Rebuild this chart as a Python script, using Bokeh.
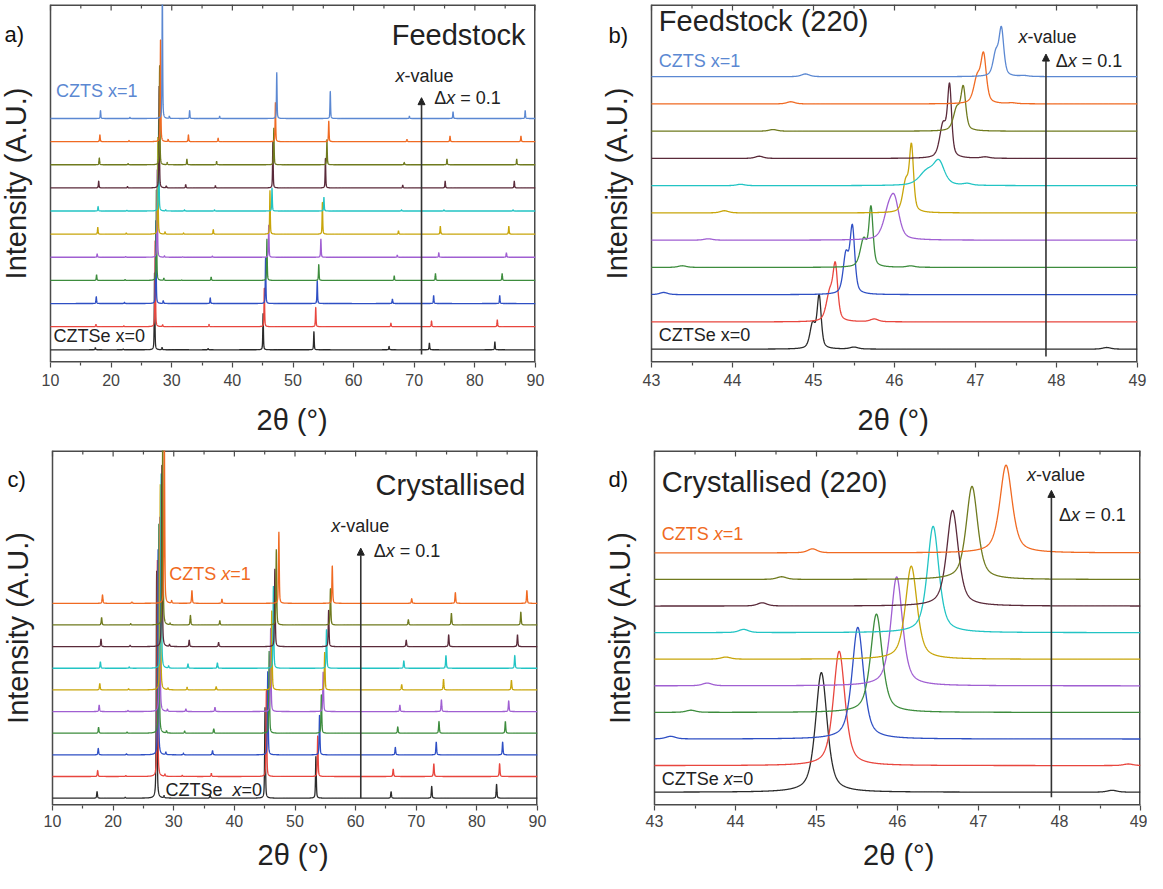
import numpy as np
from bokeh.plotting import figure
from bokeh.models import (Range1d, FixedTicker, Label, Arrow, NormalHead)
from bokeh.layouts import column, row
from bokeh.embed import file_html
from bokeh.resources import INLINE

# ------------------------------------------------------------------ data
COMPOSITIONS = [0.0, 0.1, 0.2, 0.3, 0.4, 0.5, 0.6, 0.7, 0.8, 0.9, 1.0]
TRACE_COLORS = ["#2b2b2b", "#e8463e", "#2e4fc4", "#3d8c3d", "#a05fd2", "#c8a50a",
                "#22c4c4", "#5a2a3a", "#6f7a1e", "#f06a22", "#5b88d2"]

# Panel a: feedstock, 10-90 deg, 11 traces (peak positions and heights, in trace-offset units)
FEED_101_POS = [17.40, 17.50, 17.55, 17.60, 17.70, 17.80, 17.85, 17.95, 18.05, 18.15, 18.25]
FEED_101_H = [0.10, 0.10, 0.30, 0.25, 0.15, 0.30, 0.20, 0.30, 0.30, 0.30, 0.35]
FEED_110_POS = [22.00, 22.10, 22.20, 22.30, 22.40, 22.50, 22.60, 22.70, 22.80, 22.95, 23.10]
FEED_110_H = [0.03, 0.03, 0.05, 0.04, 0.03, 0.05, 0.03, 0.06, 0.05, 0.05, 0.05]
FEED_112_POS = [27.17, 27.27, 27.38, 27.47, 27.60, 27.70, 27.85, 27.92, 28.00, 28.15, 28.45]
FEED_112_H = [3.4, 3.8, 3.6, 4.0, 3.8, 4.2, 4.0, 4.4, 4.3, 4.5, 5.8]
FEED_103_POS = [28.40, 28.50, 28.60, 28.70, 28.80, 28.90, 29.00, 29.10, 29.25, 29.40, 29.60]
FEED_103_H = [0.10, 0.08, 0.12, 0.10, 0.06, 0.10, 0.05, 0.08, 0.10, 0.10, 0.10]
FEED_200_POS = [31.20, 31.35, 31.50, 31.65, 31.80, 31.95, 32.10, 32.30, 32.50, 32.75, 32.95]
FEED_200_H = [0.00, 0.00, 0.00, 0.02, 0.02, 0.05, 0.05, 0.15, 0.25, 0.30, 0.35]
FEED_211_POS = [36.00, 36.15, 36.35, 36.50, 36.70, 36.85, 37.05, 37.20, 37.40, 37.65, 37.90]
FEED_211_H = [0.05, 0.10, 0.25, 0.15, 0.05, 0.20, 0.05, 0.10, 0.15, 0.15, 0.10]
FEED_220_POS = [45.07, 45.27, 45.48, 45.70, 46.00, 46.20, 46.54, 46.68, 46.84, 47.10, 47.32]
FEED_220_H = [1.6, 1.7, 2.0, 1.8, 1.4, 1.9, 1.0, 2.0, 1.6, 1.7, 2.0]
FEED_312_POS = [53.45, 53.75, 54.00, 54.25, 54.60, 54.85, 55.10, 55.35, 55.60, 55.90, 56.15]
FEED_312_H = [0.80, 0.85, 1.00, 0.70, 0.80, 1.40, 0.60, 1.30, 1.10, 0.90, 1.20]
FEED_400_POS = [65.85, 66.15, 66.40, 66.70, 67.20, 67.40, 67.90, 68.10, 68.35, 68.80, 69.20]
FEED_400_H = [0.15, 0.15, 0.20, 0.20, 0.10, 0.15, 0.05, 0.12, 0.10, 0.10, 0.10]
FEED_332_POS = [72.50, 72.85, 73.20, 73.50, 74.05, 74.30, 74.90, 75.10, 75.40, 75.90, 76.40]
FEED_332_H = [0.30, 0.25, 0.35, 0.30, 0.20, 0.35, 0.05, 0.30, 0.25, 0.25, 0.30]
FEED_424_POS = [83.30, 83.70, 84.10, 84.50, 85.20, 85.60, 86.30, 86.50, 86.90, 87.60, 88.30]
FEED_424_H = [0.35, 0.30, 0.35, 0.30, 0.20, 0.35, 0.05, 0.30, 0.25, 0.25, 0.35]

# Panel b: feedstock (220), 43-49 deg, 11 traces
FEED220_MAIN_POS = [45.07, 45.27, 45.48, 45.71, 46.00, 46.21, 46.55, 46.68, 46.85, 47.10, 47.32]
FEED220_MAIN_H = [1.9, 1.9, 2.4, 2.1, 1.3, 2.3, 0.8, 2.5, 1.5, 1.7, 1.7]
FEED220_MAIN_W = [0.06, 0.07, 0.07, 0.06, 0.14, 0.06, 0.16, 0.06, 0.07, 0.08, 0.07]
FEED220_SHLD_POS = [44.99, 45.20, 45.40, 45.62, 45.92, 46.14, 46.40, 46.60, 46.77, 47.02, 47.25]
FEED220_SHLD_H = [0.9, 1.0, 1.4, 1.0, 0.8, 1.1, 0.5, 1.2, 0.8, 0.9, 0.8]
FEED220_SHLD_W = [0.08, 0.10, 0.08, 0.10, 0.15, 0.09, 0.22, 0.10, 0.10, 0.10, 0.08]
FEED220_BUMP_POS = [45.50, 45.75, 43.15, 43.38, 43.70, 43.90, 44.10, 44.33, 44.50, 44.72, 44.90]
FEED220_BUMP_H = [0.07, 0.10, 0.08, 0.06, 0.05, 0.08, 0.05, 0.08, 0.06, 0.08, 0.10]
FEED220_BUMP2_POS = [48.62, 47.75, 48.50, 46.20, 46.40, 46.60, 46.90, 47.12, 47.30, 47.45, 47.60]
FEED220_BUMP2_H = [0.06, 0.00, 0.00, 0.05, 0.00, 0.00, 0.06, 0.05, 0.00, 0.03, 0.03]

# Panel c: crystallised, 10-90 deg, 10 traces
CRYS_101_POS = [17.35, 17.45, 17.55, 17.60, 17.70, 17.80, 17.90, 18.00, 18.10, 18.25]
CRYS_101_H = [0.30, 0.28, 0.30, 0.28, 0.30, 0.30, 0.30, 0.35, 0.35, 0.40]
CRYS_110_POS = [22.00, 22.10, 22.20, 22.30, 22.45, 22.55, 22.65, 22.80, 22.90, 23.10]
CRYS_110_H = [0.04, 0.04, 0.05, 0.05, 0.05, 0.05, 0.06, 0.06, 0.06, 0.06]
CRYS_112_POS = [27.18, 27.30, 27.42, 27.55, 27.68, 27.78, 27.92, 28.05, 28.18, 28.45]
CRYS_112_H = [10.5, 10.0, 9.5, 9.8, 9.0, 9.5, 9.0, 8.5, 8.8, 7.8]
CRYS_103_POS = [28.40, 28.55, 28.70, 28.80, 28.95, 29.05, 29.15, 29.30, 29.40, 29.65]
CRYS_103_H = [0.10, 0.10, 0.12, 0.10, 0.10, 0.08, 0.10, 0.10, 0.08, 0.12]
CRYS_200_POS = [31.20, 31.40, 31.60, 31.80, 32.00, 32.20, 32.35, 32.55, 32.75, 33.00]
CRYS_200_H = [0.00, 0.05, 0.08, 0.10, 0.12, 0.12, 0.20, 0.30, 0.45, 0.60]
CRYS_211_POS = [36.00, 36.20, 36.40, 36.60, 36.80, 37.00, 37.20, 37.40, 37.60, 37.95]
CRYS_211_H = [0.15, 0.15, 0.20, 0.20, 0.20, 0.15, 0.25, 0.20, 0.20, 0.20]
CRYS_220_POS = [45.06, 45.28, 45.51, 45.74, 45.99, 46.17, 46.44, 46.68, 46.92, 47.34]
CRYS_220_H = [4.2, 4.0, 3.9, 3.8, 3.9, 3.7, 3.8, 3.6, 3.5, 3.3]
CRYS_312_POS = [53.45, 53.75, 54.05, 54.35, 54.65, 54.90, 55.20, 55.55, 55.85, 56.15]
CRYS_312_H = [1.95, 1.90, 1.85, 1.80, 1.85, 1.75, 1.80, 1.70, 1.70, 1.75]
CRYS_400_POS = [65.85, 66.20, 66.55, 66.95, 67.30, 67.60, 67.95, 68.35, 68.70, 69.25]
CRYS_400_H = [0.30, 0.35, 0.35, 0.30, 0.30, 0.25, 0.35, 0.30, 0.25, 0.22]
CRYS_332_POS = [72.55, 72.90, 73.30, 73.75, 74.15, 74.50, 74.90, 75.35, 75.80, 76.45]
CRYS_332_H = [0.55, 0.60, 0.60, 0.55, 0.55, 0.50, 0.60, 0.55, 0.55, 0.50]
CRYS_424_POS = [83.25, 83.75, 84.25, 84.70, 85.25, 85.70, 86.25, 86.70, 87.25, 88.25]
CRYS_424_H = [0.65, 0.60, 0.60, 0.55, 0.50, 0.45, 0.60, 0.55, 0.60, 0.60]

# Panel d: crystallised (220), 43-49 deg, 10 traces
CRYS220_POS = [45.06, 45.28, 45.51, 45.74, 45.99, 46.17, 46.44, 46.68, 46.92, 47.34]
CRYS220_H = [4.5, 4.3, 4.2, 3.7, 4.1, 3.5, 4.0, 3.6, 3.5, 3.3]
CRYS220_W = [0.17, 0.17, 0.17, 0.17, 0.17, 0.17, 0.17, 0.17, 0.17, 0.18]
CRYS220_BUMP_POS = [48.65, 48.85, 43.20, 43.45, 43.65, 43.88, 44.10, 44.33, 44.57, 44.95]
CRYS220_BUMP_H = [0.07, 0.06, 0.10, 0.08, 0.10, 0.08, 0.12, 0.12, 0.10, 0.15]

X_FULL_TICK = 10
X_ZOOM_TICK = 1

# ------------------------------------------------------------------ style
FONT = "Liberation Sans"
AX = "#4a4a4a"
TXT = "#222222"
BIG = 29
SMALL = 18

EM = {"C": .722, "Z": .611, "T": .611, "S": .667, "e": .556, " ": .278, "x": .5,
      "=": .584, "0": .556, "1": .556, "2": .556, "-": .333, "v": .5, "a": .556, "l": .222,
      "u": .556, "\u0394": .668, ".": .278, "F": .611, "d": .556, "s": .5, "t": .278,
      "o": .556, "c": .5, "k": .5, "r": .333, "y": .5, "i": .222, "(": .333, ")": .333}


def twidth(s, size):
    return sum(EM.get(c, .556) for c in s) * size


def profile(x, pos, h, w, eta=0.5):
    d = (x - pos) / w
    return h * (eta / (1.0 + 4.0 * d * d) + (1.0 - eta) * np.exp(-4.0 * np.log(2) * d * d))


def make_fig(fig_w, fig_h, ext_l, box_w, bt, frame_h, xr, yr, interval,
             lab_standoff, title_standoff, pad):
    """Frame is widened to the left by ext_l px so that the panel letter and the
    y-axis title (drawn as annotations) are not clipped; the visible box is drawn
    at the real x range."""
    br = fig_w - ext_l - box_w
    bb = fig_h - bt - frame_h
    dx = (xr[1] - xr[0]) / box_w
    p = figure(width=fig_w, height=fig_h, x_range=Range1d(xr[0] - ext_l * dx, xr[1]),
               y_range=Range1d(*yr), y_axis_location=None,
               output_backend="svg", toolbar_location=None,
               min_border_left=0, min_border_right=br, min_border_top=bt, min_border_bottom=bb)
    p.xgrid.visible = False
    p.ygrid.visible = False
    p.outline_line_color = None
    p.border_fill_color = "white"
    half = interval / 2.0
    n = int(round((xr[1] - xr[0]) / half))
    tx = [xr[0] + k * half for k in range(n + 1)]
    major = [t for k, t in enumerate(tx) if k % 2 == 0]
    minor = [t for k, t in enumerate(tx) if k % 2 == 1]
    xa = p.xaxis[0]
    xa.ticker = FixedTicker(ticks=major, minor_ticks=minor)
    xa.axis_label = "\u00a0" * pad + "2\u03b8 (\u00b0)"
    xa.axis_label_text_font = FONT
    xa.axis_label_text_font_size = f"{BIG}px"
    xa.axis_label_text_font_style = "normal"
    xa.axis_label_text_color = TXT
    xa.axis_label_standoff = title_standoff
    xa.major_label_text_font = FONT
    xa.major_label_text_font_size = "16px"
    xa.major_label_text_color = "#444444"
    xa.major_label_standoff = lab_standoff
    xa.axis_line_color = None
    xa.major_tick_line_color = AX
    xa.minor_tick_line_color = AX
    xa.major_tick_line_width = 1.2
    xa.minor_tick_line_width = 1.2
    xa.major_tick_in = 0
    xa.major_tick_out = 5
    xa.minor_tick_in = 0
    xa.minor_tick_out = 3
    span = yr[1] - yr[0]
    # frame box (edges on the frame boundary are drawn twice as wide: half is clipped)
    p.segment(x0=[xr[0], xr[0], xr[1]], y0=[yr[0], yr[1], yr[0]],
              x1=[xr[1], xr[1], xr[1]], y1=[yr[0], yr[1], yr[1]],
              line_color=AX, line_width=3)
    p.segment(x0=[xr[0]], y0=[yr[0]], x1=[xr[0]], y1=[yr[1]], line_color=AX, line_width=1.5)
    # inward ticks along the top edge
    p.segment(x0=major, y0=[yr[1]] * len(major), x1=major,
              y1=[yr[1] - 6 * span / frame_h] * len(major), line_color=AX, line_width=1.2)
    p.segment(x0=minor, y0=[yr[1]] * len(minor), x1=minor,
              y1=[yr[1] - 4 * span / frame_h] * len(minor), line_color=AX, line_width=1.2)
    # y-axis title
    p.add_layout(Label(x=xr[0], y=(yr[0] + yr[1]) / 2.0, x_offset=-35, angle=np.pi / 2,
                       text="Intensity (A.U.)", text_font=FONT, text_font_size=f"{BIG}px",
                       text_color=TXT, text_align="center", text_baseline="middle"))
    return p


def add_text(p, x, y, parts, size, color, align="left"):
    total = sum(twidth(t, size) for t, _ in parts)
    off = -total if align == "right" else 0.0
    for t, it in parts:
        stripped = t.lstrip(" ")
        lead = twidth(t[:len(t) - len(stripped)], size)
        p.add_layout(Label(x=x, y=y, x_offset=off + lead, text=stripped,
                           text_font=FONT, text_font_size=f"{size}px",
                           text_font_style="italic" if it else "normal",
                           text_color=color, text_align="left", text_baseline="middle"))
        off += twidth(t, size)


def add_arrow(p, x, y0, y1):
    p.add_layout(Arrow(end=NormalHead(size=7, fill_color="#222222", line_color="#222222"),
                       x_start=x, y_start=y0, x_end=x, y_end=y1,
                       line_color="#333333", line_width=1.6))


def panel_letter(p, txt, xr, y, dx):
    p.add_layout(Label(x=xr[0], y=y, x_offset=dx, text=txt, text_font=FONT,
                       text_font_size="22px", text_color="#111111",
                       text_align="left", text_baseline="middle"))


# ------------------------------------------------------------------ panel a
FH1 = 358
FH2 = 355
xr_a = (10, 90)
yr_a = (-0.55, 14.93)
pa = make_fig(592, 440, 50, 485, 4, FH1, xr_a, yr_a, X_FULL_TICK, 6, 15, 6)
xs = np.arange(10, 90.0001, 0.02)
feed_peaks = [(FEED_101_POS, FEED_101_H), (FEED_110_POS, FEED_110_H), (FEED_112_POS, FEED_112_H),
              (FEED_103_POS, FEED_103_H), (FEED_200_POS, FEED_200_H), (FEED_211_POS, FEED_211_H),
              (FEED_220_POS, FEED_220_H), (FEED_312_POS, FEED_312_H), (FEED_400_POS, FEED_400_H),
              (FEED_332_POS, FEED_332_H), (FEED_424_POS, FEED_424_H)]
for i in range(len(COMPOSITIONS)):
    y = np.zeros_like(xs)
    for pos, hh in feed_peaks:
        y += profile(xs, pos[i], hh[i], 0.12)
    pa.line(xs, y + i, color=TRACE_COLORS[i], line_width=1.3)
add_text(pa, 88.35, 13.6, [("Feedstock", False)], BIG, TXT, align="right")
add_text(pa, 10.9, 11.2, [("CZTS x=1", False)], SMALL, TRACE_COLORS[10])
add_text(pa, 10.5, 0.58, [("CZTSe x=0", False)], SMALL, TXT)
add_arrow(pa, 71.2, -0.2, 10.9)
add_text(pa, 66.9, 11.85, [("x", True), ("-value", False)], SMALL, TXT)
add_text(pa, 73.3, 10.9, [("\u0394", False), ("x", True), (" = 0.1", False)], SMALL, TXT)
panel_letter(pa, "a)", xr_a, yr_a[1] - 30 * (yr_a[1] - yr_a[0]) / FH1, -46)

# ------------------------------------------------------------------ panel b
xr_b = (43, 49)
yr_b = (-0.49, 12.65)
pb = make_fig(555, 440, 59, 486, 4, FH1, xr_b, yr_b, X_ZOOM_TICK, 6, 15, 7)
xz = np.arange(43, 49.0001, 0.004)
for i in range(len(COMPOSITIONS)):
    y = (profile(xz, FEED220_MAIN_POS[i], FEED220_MAIN_H[i], FEED220_MAIN_W[i]) +
         profile(xz, FEED220_SHLD_POS[i], FEED220_SHLD_H[i], FEED220_SHLD_W[i]) +
         profile(xz, FEED220_BUMP_POS[i], FEED220_BUMP_H[i], 0.12) +
         profile(xz, FEED220_BUMP2_POS[i], FEED220_BUMP2_H[i], 0.12))
    pb.line(xz, y + i, color=TRACE_COLORS[i], line_width=1.3)
add_text(pb, 43.09, 12.06, [("Feedstock (220)", False)], BIG, TXT)
add_text(pb, 43.09, 10.59, [("CZTS x=1", False)], SMALL, TRACE_COLORS[10])
add_text(pb, 43.09, 0.53, [("CZTSe x=0", False)], SMALL, TXT)
add_arrow(pb, 47.87, -0.27, 10.83)
add_text(pb, 47.53, 11.47, [("x", True), ("-value", False)], SMALL, TXT)
add_text(pb, 47.99, 10.59, [("\u0394", False), ("x", True), (" = 0.1", False)], SMALL, TXT)
panel_letter(pb, "b)", xr_b, yr_b[1] - 31 * (yr_b[1] - yr_b[0]) / FH1, -43)

# ------------------------------------------------------------------ panel c
N_CRYS = 10
crys_colors = TRACE_COLORS[:10]
xr_c = (10, 90)
yr_c = (-0.34, 16.06)
pc = make_fig(592, 433, 52, 485, 10, FH2, xr_c, yr_c, X_FULL_TICK, 4, 9, 6)
crys_peaks = [(CRYS_101_POS, CRYS_101_H), (CRYS_110_POS, CRYS_110_H), (CRYS_112_POS, CRYS_112_H),
              (CRYS_103_POS, CRYS_103_H), (CRYS_200_POS, CRYS_200_H), (CRYS_211_POS, CRYS_211_H),
              (CRYS_220_POS, CRYS_220_H), (CRYS_312_POS, CRYS_312_H), (CRYS_400_POS, CRYS_400_H),
              (CRYS_332_POS, CRYS_332_H), (CRYS_424_POS, CRYS_424_H)]
for i in range(N_CRYS):
    y = np.zeros_like(xs)
    for pos, hh in crys_peaks:
        y += profile(xs, pos[i], hh[i], 0.15)
    pc.line(xs, y + i, color=crys_colors[i], line_width=1.3)
add_text(pc, 88.0, 14.45, [("Crystallised", False)], BIG, TXT, align="right")
add_text(pc, 29.25, 10.34, [("CZTS ", False), ("x", True), ("=1", False)], SMALL, TRACE_COLORS[9])
add_text(pc, 28.64, 0.38, [("CZTSe  ", False), ("x", True), ("=0", False)], SMALL, TXT)
add_arrow(pc, 60.85, 0.0, 11.55)
add_text(pc, 55.97, 12.55, [("x", True), ("-value", False)], SMALL, TXT)
add_text(pc, 63.0, 11.4, [("\u0394", False), ("x", True), (" = 0.1", False)], SMALL, TXT)
panel_letter(pc, "c)", xr_c, yr_c[1] - 29 * (yr_c[1] - yr_c[0]) / FH2, -45)

# ------------------------------------------------------------------ panel d
xr_d = (43, 49)
yr_d = (-0.5, 12.85)
pd_ = make_fig(555, 433, 62, 486, 10, FH2, xr_d, yr_d, X_ZOOM_TICK, 4, 9, 8)
for i in range(N_CRYS):
    y = (profile(xz, CRYS220_POS[i], CRYS220_H[i], CRYS220_W[i], 0.6) +
         profile(xz, CRYS220_BUMP_POS[i], CRYS220_BUMP_H[i], 0.14))
    pd_.line(xz, y + i, color=crys_colors[i], line_width=1.3)
add_text(pd_, 43.09, 11.66, [("Crystallised (220)", False)], BIG, TXT)
add_text(pd_, 43.09, 9.71, [("CZTS ", False), ("x", True), ("=1", False)], SMALL, TRACE_COLORS[9])
add_text(pd_, 43.09, 0.5, [("CZTSe ", False), ("x", True), ("=0", False)], SMALL, TXT)
add_arrow(pd_, 47.9, -0.19, 11.35)
add_text(pd_, 47.6, 11.91, [("x", True), ("-value", False)], SMALL, TXT)
add_text(pd_, 47.995, 10.42, [("\u0394", False), ("x", True), (" = 0.1", False)], SMALL, TXT)
panel_letter(pd_, "d)", xr_d, yr_d[1] - 29 * (yr_d[1] - yr_d[0]) / FH2, -46)

layout = column(row(pa, pb), row(pc, pd_))
open("out.html", "w").write(file_html(layout, INLINE))
